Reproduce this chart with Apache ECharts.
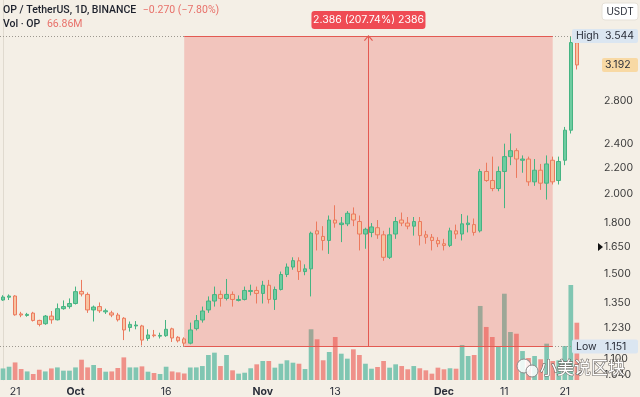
<!DOCTYPE html>
<html>
<head>
<meta charset="utf-8">
<script src="https://cdn.jsdelivr.net/npm/echarts@6/dist/echarts.min.js"></script>
<style>
  html, body { margin: 0; padding: 0; background: #f4efe6; }
  #chart { width: 640px; height: 397px; }
</style>
</head>
<body>
<div id="chart"></div>
<script>
// OP / USDT daily candles, starting Sep 19
const startDay = [2023, 8, 19]
const padDays = 3

const opens = [
  1.362, 1.376, 1.382, 1.295, 1.288, 1.299, 1.265, 1.250, 1.285, 1.268,
  1.320, 1.330, 1.345, 1.405, 1.390, 1.314, 1.330, 1.305, 1.300, 1.290,
  1.275, 1.233, 1.240, 1.240, 1.185, 1.200, 1.195, 1.197, 1.227, 1.190,
  1.183, 1.165, 1.228, 1.267, 1.314, 1.357, 1.390, 1.370, 1.390, 1.360,
  1.365, 1.405, 1.410, 1.395, 1.437, 1.365, 1.415, 1.494, 1.535, 1.570,
  1.510, 1.525, 1.750, 1.715, 1.690, 1.820, 1.790, 1.795, 1.860, 1.810,
  1.730, 1.740, 1.770, 1.725, 1.590, 1.730, 1.820, 1.800, 1.780, 1.810,
  1.725, 1.710, 1.690, 1.670, 1.660, 1.750, 1.730, 1.790, 1.790, 1.750,
  2.170, 2.100, 2.040, 2.170, 2.290, 2.340, 2.260, 2.270, 2.090, 2.180,
  2.080, 2.260, 2.100, 2.260, 2.520, 3.460
]
const highs = [
  1.386, 1.390, 1.386, 1.305, 1.300, 1.305, 1.268, 1.290, 1.309, 1.345,
  1.360, 1.370, 1.430, 1.465, 1.400, 1.335, 1.350, 1.320, 1.310, 1.300,
  1.280, 1.260, 1.262, 1.245, 1.225, 1.222, 1.210, 1.267, 1.232, 1.195,
  1.190, 1.255, 1.290, 1.330, 1.380, 1.430, 1.410, 1.470, 1.405, 1.385,
  1.430, 1.440, 1.430, 1.460, 1.465, 1.430, 1.510, 1.555, 1.590, 1.590,
  1.550, 1.745, 1.810, 1.780, 1.850, 1.920, 1.840, 1.880, 1.905, 1.850,
  1.770, 1.800, 1.820, 1.750, 1.770, 1.840, 1.870, 1.840, 1.840, 1.840,
  1.750, 1.730, 1.710, 1.700, 1.770, 1.790, 1.860, 1.850, 1.830, 2.190,
  2.240, 2.290, 2.210, 2.400, 2.490, 2.360, 2.300, 2.290, 2.270, 2.230,
  2.300, 2.290, 2.290, 2.550, 3.544, 3.500
]
const lows = [
  1.358, 1.362, 1.287, 1.280, 1.282, 1.260, 1.238, 1.245, 1.250, 1.265,
  1.315, 1.320, 1.340, 1.380, 1.300, 1.260, 1.300, 1.295, 1.280, 1.260,
  1.178, 1.215, 1.225, 1.155, 1.175, 1.190, 1.185, 1.192, 1.170, 1.168,
  1.151, 1.160, 1.220, 1.255, 1.300, 1.330, 1.330, 1.360, 1.330, 1.355,
  1.360, 1.385, 1.345, 1.345, 1.345, 1.314, 1.410, 1.480, 1.520, 1.465,
  1.490, 1.380, 1.630, 1.630, 1.610, 1.770, 1.680, 1.780, 1.780, 1.630,
  1.640, 1.710, 1.700, 1.570, 1.580, 1.700, 1.780, 1.760, 1.720, 1.660,
  1.670, 1.630, 1.650, 1.630, 1.650, 1.700, 1.690, 1.740, 1.720, 1.740,
  2.090, 2.020, 2.020, 1.900, 2.220, 2.120, 2.160, 2.060, 2.060, 2.030,
  1.960, 2.070, 2.070, 2.220, 2.490, 3.140
]
const closes = [
  1.377, 1.382, 1.291, 1.290, 1.293, 1.265, 1.247, 1.285, 1.268, 1.320,
  1.330, 1.345, 1.404, 1.392, 1.314, 1.328, 1.310, 1.310, 1.290, 1.268,
  1.222, 1.247, 1.244, 1.178, 1.200, 1.197, 1.198, 1.225, 1.187, 1.175,
  1.165, 1.222, 1.264, 1.309, 1.357, 1.389, 1.370, 1.390, 1.365, 1.365,
  1.410, 1.410, 1.395, 1.437, 1.365, 1.415, 1.494, 1.535, 1.571, 1.510,
  1.525, 1.735, 1.730, 1.690, 1.820, 1.800, 1.800, 1.865, 1.820, 1.730,
  1.760, 1.775, 1.725, 1.590, 1.725, 1.810, 1.800, 1.780, 1.810, 1.720,
  1.710, 1.690, 1.670, 1.660, 1.750, 1.730, 1.795, 1.800, 1.740, 2.170,
  2.100, 2.040, 2.170, 2.290, 2.340, 2.270, 2.270, 2.090, 2.180, 2.080,
  2.230, 2.090, 2.250, 2.520, 3.462, 3.192
]
// volume in millions OP
const volumes = [
  13.5, 15.5, 20.5, 12.8, 10.0, 7.0, 12.0, 10.0, 13.5, 14.7,
  10.9, 10.9, 14.7, 23.7, 14.7, 17.5, 14.0, 9.7, 10.0, 14.0,
  26.4, 14.7, 14.7, 15.9, 9.7, 8.2, 7.0, 15.5, 10.0, 8.9,
  7.6, 14.6, 14.7, 16.3, 29.2, 31.9, 16.3, 29.2, 11.3, 7.4,
  8.5, 13.7, 18.3, 22.2, 22.2, 14.4, 19.0, 23.0, 20.2, 19.0,
  12.8, 59.2, 47.5, 23.0, 32.7, 50.2, 30.7, 24.9, 35.8, 29.2,
  19.0, 13.2, 15.2, 22.2, 14.4, 18.3, 16.3, 12.5, 16.3, 13.7,
  11.3, 7.4, 14.4, 12.5, 13.7, 13.2, 40.8, 28.0, 29.2, 86.4,
  61.9, 50.2, 39.7, 100.7, 56.0, 54.0, 33.8, 25.7, 28.0, 24.2,
  42.4, 22.2, 23.0, 39.7, 110.9, 66.86
]

const priceTicks = [1.04, 1.10, 1.23, 1.35, 1.50, 1.65, 1.80, 2.00, 2.20, 2.40, 2.80]
const dateTicks = {
  '2023-09-21': '21', '2023-10-01': 'Oct', '2023-10-16': '16', '2023-11-01': 'Nov',
  '2023-11-13': '13', '2023-12-01': 'Dec', '2023-12-11': '11', '2023-12-21': '21'
}

// price range tool
const rangeStart = 30
const rangeEnd = 91
const rangeLow = 1.151
const rangeHigh = 3.544
const rangeText = '2.386 (207.74%) 2386'
const lastPrice = 3.192
const lastChange = '−0.270 (−7.80%)'
const lastVolume = '66.86M'

const upFill = '#6dcca0', upLine = '#45b482'
const downFill = '#f7c4a2', downLine = '#ec7a5e'
const volUp = '#80c6b2', volDown = '#ef9189'
const rangeRed = '#e35a52'
const font = 'Inter, Roboto, sans-serif'
const headFont = 'Roboto, sans-serif'

let dates = []
let d = new Date(Date.UTC(startDay[0], startDay[1], startDay[2]))
for (let i = 0; i < opens.length + padDays; i++) {
  dates.push(d.toISOString().slice(0, 10))
  d.setUTCDate(d.getUTCDate() + 1)
}

const candles = opens.map((o, i) => [o, closes[i], lows[i], highs[i]])
const vols = volumes.map((v, i) => ({
  value: v,
  itemStyle: {color: closes[i] >= opens[i] ? volUp : volDown}
}))

const chart = echarts.init(document.getElementById('chart'))
const dotted = {color: '#9d988f', width: 1, type: [1, 2]}
const solid = {color: rangeRed, width: 1, type: 'solid'}
const lastX = dates.length - 0.5

chart.setOption({
  backgroundColor: '#f4efe6',
  animation: false,
  textStyle: {fontFamily: font},
  grid: [
    {left: -1, right: 42, top: 0, bottom: 17},
    {left: -1, right: 42, bottom: 17, height: 100}
  ],
  xAxis: [
    {
      type: 'category', data: dates, gridIndex: 0,
      axisLine: {show: false}, axisTick: {show: false}, splitLine: {show: false},
      axisLabel: {
        interval: (i, v) => v in dateTicks,
        formatter: v => {
          let t = dateTicks[v] || ''
          return t.length === 3 ? '{m|' + t + '}' : t
        },
        color: '#2a2e39', fontSize: 10.5, margin: 6,
        rich: {m: {fontWeight: 'bold', fontSize: 10.5, color: '#2a2e39'}}
      }
    },
    {type: 'category', data: dates, gridIndex: 1, show: false},
    {type: 'value', gridIndex: 0, min: -0.5, max: lastX, show: false}
  ],
  yAxis: [
    {
      type: 'log', gridIndex: 0, position: 'right', min: 1.0194, max: 4.039,
      axisLine: {show: true, lineStyle: {color: '#e0dacf'}},
      axisTick: {show: false}, axisLabel: {show: false}, splitLine: {show: false}
    },
    {type: 'value', gridIndex: 1, min: 0, max: 116.7, show: false}
  ],
  series: [
    {
      name: 'Vol', type: 'bar', xAxisIndex: 1, yAxisIndex: 1, z: 1,
      barWidth: '78%', data: vols
    },
    {
      name: 'range', type: 'line', xAxisIndex: 2, yAxisIndex: 0, data: [],
      symbol: 'none', silent: true, z: 2,
      markArea: {
        z: 2, silent: true,
        itemStyle: {color: 'rgba(237,84,78,0.27)'},
        data: [[{coord: [rangeStart, rangeLow]}, {coord: [rangeEnd, rangeHigh]}]]
      },
      markLine: {
        z: 4, silent: true, symbol: 'none', label: {show: false}, animation: false,
        data: [
          [{coord: [-0.5, rangeHigh], lineStyle: dotted}, {coord: [lastX, rangeHigh]}],
          [{coord: [-0.5, rangeLow], lineStyle: dotted}, {coord: [lastX, rangeLow]}],
          [{coord: [rangeStart, rangeHigh], lineStyle: solid}, {coord: [rangeEnd, rangeHigh]}],
          [{coord: [rangeStart, rangeLow], lineStyle: solid}, {coord: [rangeEnd, rangeLow]}],
          [
            {coord: [(rangeStart + rangeEnd) / 2, rangeLow], lineStyle: solid},
            {
              coord: [(rangeStart + rangeEnd) / 2, rangeHigh],
              symbol: 'path://M0,6L5,0L10,6L9,7L5,2L1,7Z', symbolSize: [9, 6], symbolOffset: [0, 2]
            }
          ]
        ]
      }
    },
    {
      name: 'OP', type: 'candlestick', xAxisIndex: 0, yAxisIndex: 0, z: 3,
      barWidth: 4, data: candles,
      itemStyle: {
        color: upFill, color0: downFill,
        borderColor: upLine, borderColor0: downLine, borderWidth: 1
      }
    }
  ]
})

const py = v => chart.convertToPixel({yAxisIndex: 0}, v)
const midX = chart.convertToPixel({xAxisIndex: 2}, (rangeStart + rangeEnd) / 2)
let g = []

for (let v of priceTicks) {
  g.push({type: 'text', x: 604, y: py(v), z: 10,
    style: {text: v.toFixed(3), fill: '#3b3b3b', font: '10.5px ' + font, verticalAlign: 'middle'}})
}

function tag(y, label, value, bg) {
  if (label) {
    g.push({type: 'rect', z: 20, shape: {x: 572, y: y - 7, width: 66, height: 14, r: 2}, style: {fill: bg}})
    g.push({type: 'text', x: 576, y: y, z: 21,
      style: {text: label, fill: '#2a2e39', font: '10.5px ' + font, verticalAlign: 'middle'}})
  } else {
    g.push({type: 'rect', z: 20, shape: {x: 602, y: y - 7, width: 36, height: 14, r: 2}, style: {fill: bg}})
  }
  g.push({type: 'text', x: 605, y: y, z: 21,
    style: {text: value, fill: '#2a2e39', font: '10.5px ' + font, verticalAlign: 'middle'}})
}
tag(py(rangeHigh), 'High', rangeHigh.toFixed(3), '#dbe6f1')
tag(py(rangeLow), 'Low', rangeLow.toFixed(3), '#dbe6f1')
tag(py(lastPrice), null, lastPrice.toFixed(3), '#f8d9a4')

// pointer at the price scale
let yp = py(1.65)
g.push({type: 'polygon', z: 20, shape: {points: [[598, yp - 4], [603, yp], [598, yp + 4]]}, style: {fill: '#111'}})

// currency box
g.push({type: 'rect', z: 20, shape: {x: 602, y: 3, width: 36, height: 17, r: 3},
  style: {fill: '#ffffff', stroke: '#e6e1d8'}})
g.push({type: 'text', x: 620, y: 11.5, z: 21,
  style: {text: 'USDT', fill: '#2a2e39', font: '10px ' + font, align: 'center', verticalAlign: 'middle'}})

// range label
g.push({type: 'rect', z: 20, shape: {x: midX - 57, y: py(rangeHigh) - 25, width: 114, height: 18, r: 3},
  style: {fill: '#ef4b54'}})
g.push({type: 'text', x: midX, y: py(rangeHigh) - 16, z: 21,
  style: {text: rangeText, fill: '#ffffff', font: '10.5px ' + font, align: 'center', verticalAlign: 'middle'}})

// header
const head = {fill: '#1e222d', font: '500 10.5px ' + headFont}
const headRed = {fill: '#e8716a', font: '10.5px ' + headFont}
g.push({type: 'text', x: 3, y: 10, z: 21, style: {
  text: '{a|OP / TetherUS, 1D, BINANCE}  {b|' + lastChange + '}', verticalAlign: 'middle',
  rich: {a: head, b: headRed}
}})
g.push({type: 'text', x: 3, y: 24, z: 21, style: {
  text: '{a|Vol · OP}  {b|' + lastVolume + '}', verticalAlign: 'middle',
  rich: {a: head, b: headRed}
}})

// watermark
g.push({type: 'circle', z: 30, shape: {cx: 524, cy: 366, r: 7}, style: {fill: 'rgba(255,255,255,0.85)', stroke: '#8a8a8a', lineWidth: 1}})
g.push({type: 'circle', z: 30, shape: {cx: 532, cy: 371, r: 6}, style: {fill: 'rgba(255,255,255,0.85)', stroke: '#8a8a8a', lineWidth: 1}})
g.push({type: 'text', x: 540, y: 368, z: 30, style: {
  text: '小美说区块', fill: '#ffffff', stroke: '#6f6a66', lineWidth: 1.2,
  font: '17px "Noto Sans CJK SC"', verticalAlign: 'middle'
}})

chart.setOption({graphic: g})
</script>
</body>
</html>
